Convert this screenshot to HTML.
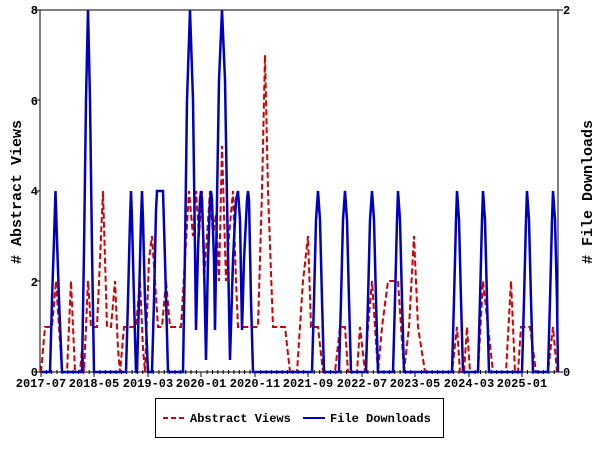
<!DOCTYPE html>
<html><head><style>
body{margin:0;background:#fff}
svg text{font-family:"Liberation Mono",monospace;font-weight:bold;font-size:12px;fill:#000}
</style></head><body>
<svg width="600" height="450" viewBox="0 0 600 450" xmlns="http://www.w3.org/2000/svg">
<rect x="40" y="10" width="518" height="362" fill="#fff" stroke="#000" stroke-width="1"/>
<g stroke="#000" stroke-width="1">
<line x1="41" y1="372" x2="41" y2="377"/><line x1="94" y1="372" x2="94" y2="377"/><line x1="148" y1="372" x2="148" y2="377"/><line x1="201" y1="372" x2="201" y2="377"/><line x1="255" y1="372" x2="255" y2="377"/><line x1="308" y1="372" x2="308" y2="377"/><line x1="362" y1="372" x2="362" y2="377"/><line x1="415" y1="372" x2="415" y2="377"/><line x1="469" y1="372" x2="469" y2="377"/><line x1="522" y1="372" x2="522" y2="377"/>
<line x1="35" y1="10" x2="40" y2="10"/><line x1="35" y1="100" x2="40" y2="100"/><line x1="35" y1="191" x2="40" y2="191"/><line x1="35" y1="281" x2="40" y2="281"/><line x1="35" y1="372" x2="40" y2="372"/>
<line x1="558" y1="10" x2="563" y2="10"/><line x1="558" y1="372" x2="563" y2="372"/>
</g>
<path stroke="#000" stroke-width="1" d="M46.4 370v4M51.7 370v4M57 370v4M62.4 370v4M67.8 370v4M73.1 370v4M78.5 370v4M83.8 370v4M89.2 370v4M99.9 370v4M105.3 370v4M110.6 370v4M116 370v4M121.4 370v4M126.7 370v4M132.1 370v4M137.4 370v4M142.8 370v4M153.5 370v4M158.9 370v4M164.2 370v4M169.6 370v4M175 370v4M180.3 370v4M185.7 370v4M191 370v4M196.4 370v4M207.1 370v4M212.5 370v4M217.8 370v4M223.2 370v4M228.6 370v4M233.9 370v4M239.3 370v4M244.6 370v4M250 370v4M260.7 370v4M266.1 370v4M271.4 370v4M276.8 370v4M282.2 370v4M287.5 370v4M292.9 370v4M298.2 370v4M303.6 370v4M314.3 370v4M319.7 370v4M325 370v4M330.4 370v4M335.8 370v4M341.1 370v4M346.5 370v4M351.8 370v4M357.2 370v4M367.9 370v4M373.3 370v4M378.6 370v4M384 370v4M389.4 370v4M394.7 370v4M400.1 370v4M405.4 370v4M410.8 370v4M421.5 370v4M426.9 370v4M432.2 370v4M437.6 370v4M443 370v4M448.3 370v4M453.7 370v4M459 370v4M464.4 370v4M475.1 370v4M480.5 370v4M485.8 370v4M491.2 370v4M496.6 370v4M501.9 370v4M507.3 370v4M512.6 370v4M518 370v4M527.4 370v4M532.8 370v4M538.1 370v4M543.5 370v4M548.9 370v4M554.2 370v4"/>
<g text-anchor="middle">
<text x="41" y="387">2017-07</text><text x="94" y="387">2018-05</text><text x="148" y="387">2019-03</text><text x="201" y="387">2020-01</text><text x="255" y="387">2020-11</text><text x="308" y="387">2021-09</text><text x="362" y="387">2022-07</text><text x="415" y="387">2023-05</text><text x="469" y="387">2024-03</text><text x="522" y="387">2025-01</text>
</g>
<g text-anchor="end">
<text x="38" y="14">8</text><text x="38" y="105">6</text><text x="38" y="195">4</text><text x="38" y="286">2</text><text x="38" y="376">0</text>
</g>
<g><text x="563" y="14">2</text><text x="563" y="376">0</text></g>
<text transform="translate(21,192) rotate(-90)" text-anchor="middle" style="font-size:15px">#&#160;Abstract&#160;Views</text>
<text transform="translate(592,192) rotate(-90)" text-anchor="middle" style="font-size:15px">#&#160;File&#160;Downloads</text>
<polyline fill="none" stroke="#d00000" stroke-width="2" stroke-dasharray="6,3" points="41,372 45,327 52,327 56,281 59,327 62,372 67,372 71,281 75,372 80,372 82,349 84,372 86,327 88,281 91,327 97,327 103,191 107,327 111,327 115,281 118,349 120,372 124,327 136,327 140,281 143,349 145,372 149,259 152,236 155,281 158,327 162,327 166,281 170,327 181,327 185,259 189,191 193,236 196,191 199,236 202,191 204,281 207,236 210,191 213,236 216,214 219,281 222,146 226,281 229,236 233,191 236,281 238,327 258,327 262,191 265,55 268,191 273,327 285,327 290,372 297,372 303,281 308,236 311,327 318,327 323,372 335,372 340,327 345,327 348,372 357,372 360,327 365,372 368,327 372,281 375,327 378,372 382,327 388,281 398,281 404,372 409,327 414,236 418,327 425,372 452,372 457,327 460,372 464,372 467,327 470,372 478,372 483,281 488,327 493,372 506,372 511,281 515,372 518,372 521,327 530,327 536,372 548,372 553,327 557,372"/>
<polyline fill="none" stroke="#0000c0" stroke-width="2.5" points="41,372 50,372 52,300 54,240 55.5,191 57,240 59,300 62,372 82,372 84,250 86,100 88,10 90,100 92,250 94,372 126,372 128,300 130,220 131,191 132,220 134,300 136,372 137,372 139,300 141,220 142,191 143,220 145,300 148,372 152,372 154,300 156,210 157,191 163,191 165,260 168,372 183,372 185,250 187,100 190,10 193,100 195,250 196,330 198,250 200,200 201,191 202,200 204,260 206,360 208,260 210,200 211,191 212,200 214,260 215,330 217,200 219,80 222,10 225,80 227,200 230,360 233,260 236,200 238,191 240,220 242,330 244,260 247,200 248,191 249,200 251,300 253,372 312,372 314,300 316,220 318,191 320,220 322,300 324,372 339,372 341,300 343,220 345,191 347,220 349,300 351,372 366,372 368,300 370,220 372,191 374,220 376,300 378,372 393,372 395,300 397,220 398,191 400,220 402,300 404,372 452,372 454,300 456,220 457,191 459,220 461,300 463,372 478,372 480,300 482,220 483,191 485,220 487,300 489,372 522,372 524,300 526,220 527,191 529,220 531,300 533,372 548,372 550,300 552,220 553,191 555,220 557,300 558,372"/>
<rect x="155.5" y="398.5" width="288" height="39" fill="#fff" stroke="#000" stroke-width="1"/>
<line x1="163" y1="418" x2="184" y2="418" stroke="#d00000" stroke-width="2" stroke-dasharray="5,3"/>
<text x="190" y="422">Abstract Views</text>
<line x1="303" y1="418" x2="325" y2="418" stroke="#0000c0" stroke-width="2"/>
<text x="330" y="422">File Downloads</text>
</svg>
</body></html>
